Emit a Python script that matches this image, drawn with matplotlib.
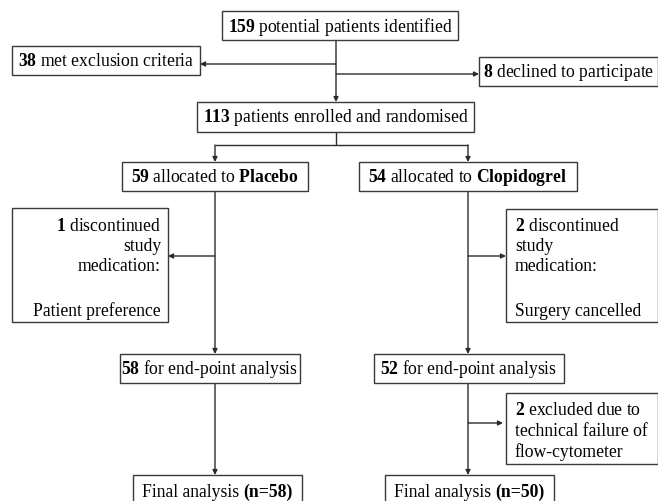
import matplotlib
matplotlib.use("Agg")
import matplotlib.pyplot as plt
from matplotlib.patches import Rectangle

plt.rcParams['font.family'] = ['Liberation Serif', 'DejaVu Serif']
plt.rcParams['mathtext.fontset'] = 'custom'
plt.rcParams['mathtext.rm'] = 'Liberation Serif'
plt.rcParams['mathtext.bf'] = 'Liberation Serif:bold'

# counts shown in the flow diagram
n_identified = 159
n_excluded = 38
n_declined = 8
n_randomised = 113
n_placebo = 59
n_clopidogrel = 54
n_disc_placebo = 1
n_disc_clopidogrel = 2
n_endpoint_placebo = 58
n_endpoint_clopidogrel = 52
n_flow_failure = 2
n_final_placebo = 58
n_final_clopidogrel = 50

def b(v):
    return r"$\mathbf{%s}$" % v

# single line boxes: (x0, y0, x1, y1, text) in pixel coords
boxes = [
    (222, 12, 458, 41, f"{b(n_identified)} potential patients identified"),
    (12, 47, 200, 76, f"{b(n_excluded)} met exclusion criteria"),
    (479, 58, 658, 87, f"{b(n_declined)} declined to participate"),
    (197, 103, 474, 133, f"{b(n_randomised)} patients enrolled and randomised"),
    (122, 163, 308, 192, f"{b(n_placebo)} allocated to {b('Placebo')}"),
    (359, 163, 577, 192, f"{b(n_clopidogrel)} allocated to {b('Clopidogrel')}"),
    (120, 355, 300, 384, f"{b(n_endpoint_placebo)} for end-point analysis"),
    (374, 355, 564, 384, f"{b(n_endpoint_clopidogrel)} for end-point analysis"),
]

# multi line boxes: (x0, y0, x1, y1, lines, baselines, align)
side_boxes = [
    (12, 209, 168, 323,
     [f"{b(n_disc_placebo)} discontinued", "study", "medication:", "Patient preference"],
     [231, 251, 271, 316], 'right'),
    (506, 210, 658, 323,
     [f"{b(n_disc_clopidogrel)} discontinued", "study", "medication:", "Surgery cancelled"],
     [231, 251, 271, 316], 'left'),
    (506, 394, 658, 465,
     [f"{b(n_flow_failure)} excluded due to", "technical failure of", "flow-cytometer"],
     [415, 436, 457], 'left'),
]

# final boxes, with a bold part
final_boxes = [
    (133, 476, 302, 510, "Final analysis", f"(n={n_final_placebo})"),
    (385, 476, 554, 510, "Final analysis", f"(n={n_final_clopidogrel})"),
]

fig = plt.figure(figsize=(6.58, 5.02), dpi=100)
ax = fig.add_axes([0, 0, 1, 1])
ax.set_xlim(0, 658)
ax.set_ylim(502, 0)
ax.axis('off')
rend = fig.canvas.get_renderer()

lc = '#2b2b2b'
ec = '#3a3a3a'
fs = 12.7

def width(s, bold=False):
    t = ax.text(0, 0, s, fontsize=fs, fontweight='bold' if bold else 'normal')
    w = t.get_window_extent(rend).width
    t.remove()
    return w

def box(x0, y0, x1, y1):
    ax.add_patch(Rectangle((x0, y0), x1 - x0, y1 - y0, facecolor='white',
                           edgecolor=ec, lw=1.0, zorder=2))

space_w = width("n n") - width("nn")

for x0, y0, x1, y1, txt in boxes:
    box(x0, y0, x1, y1)
    ax.text((x0 + x1) / 2, (y0 + y1) / 2, txt, ha='center', va='center', fontsize=fs, zorder=3)

for x0, y0, x1, y1, lines, bls, al in side_boxes:
    box(x0, y0, x1, y1)
    xt = x1 - 7 if al == 'right' else x0 + 9
    for s, yb in zip(lines, bls):
        ax.text(xt, yb, s, ha=al, va='baseline', fontsize=fs, zorder=3)

for x0, y0, x1, y1, s1, s2 in final_boxes:
    box(x0, y0, x1, y1)
    w1, w2 = width(s1), width(s2, True)
    x = (x0 + x1) / 2 - (w1 + space_w + w2) / 2
    ax.text(x, 497, s1, ha='left', va='baseline', fontsize=fs, zorder=3)
    ax.text(x + w1 + space_w, 497, s2, ha='left', va='baseline', fontsize=fs,
            fontweight='bold', zorder=3)

def line(xs, ys):
    ax.plot(xs, ys, color=lc, lw=1.0, zorder=1, solid_capstyle='butt')

def arrow(x0, y0, x1, y1):
    ax.annotate('', xy=(x1, y1), xytext=(x0, y0),
                arrowprops=dict(arrowstyle='-|>', color=lc, lw=1.0, mutation_scale=7,
                                shrinkA=0, shrinkB=0), zorder=1)

# screening
arrow(336, 41, 336, 103)
arrow(336, 65, 200, 65)
arrow(336, 75, 479, 75)
# randomisation split
line([336, 336], [133, 146])
line([215, 468], [146, 146])
arrow(215, 146, 215, 163)
arrow(468, 146, 468, 163)
# placebo arm
arrow(215, 192, 215, 355)
arrow(215, 257, 168, 257)
arrow(215, 384, 215, 476)
# clopidogrel arm
arrow(468, 192, 468, 355)
arrow(468, 257, 506, 257)
arrow(468, 384, 468, 476)
arrow(468, 424, 503, 424)

fig.savefig('out.png', dpi=100, facecolor='white')
